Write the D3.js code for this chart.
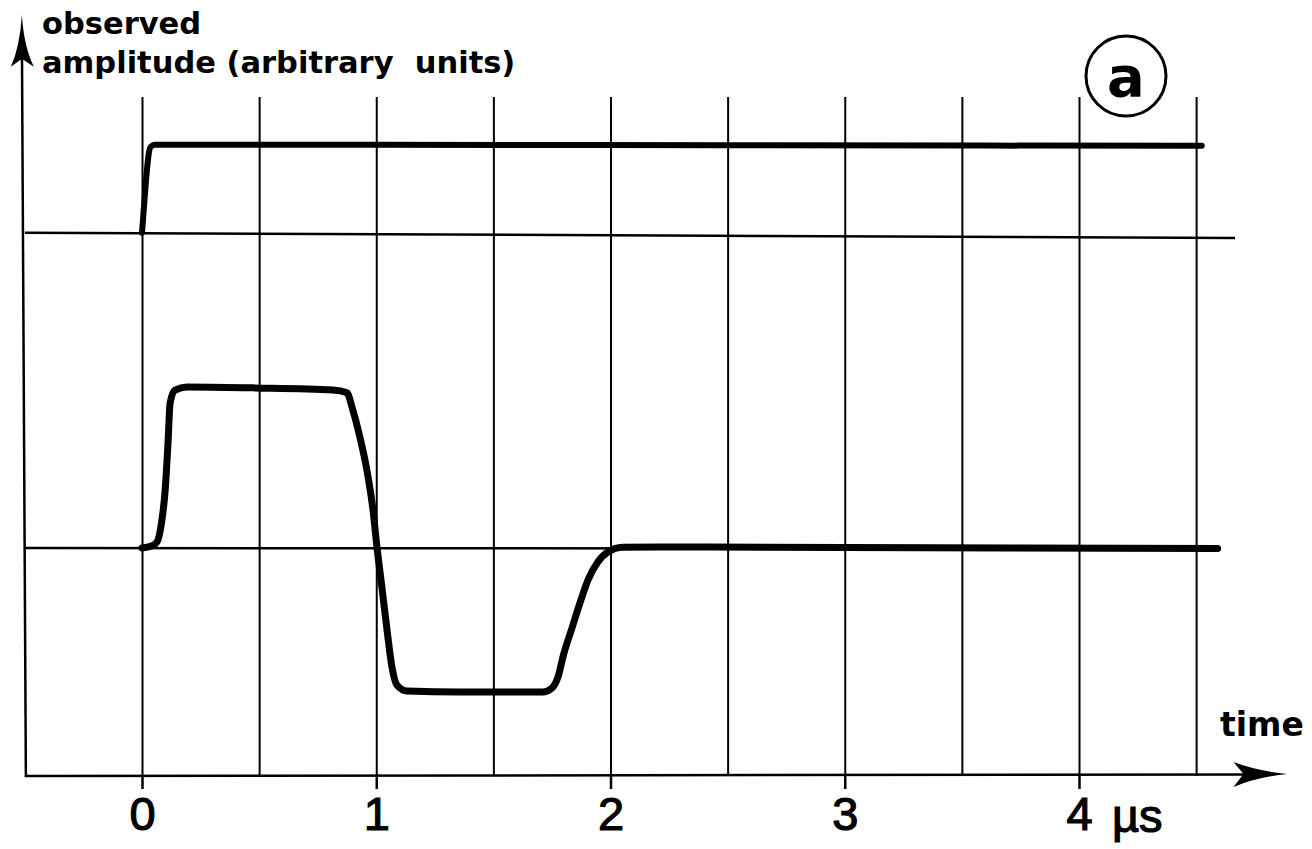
<!DOCTYPE html>
<html>
<head>
<meta charset="utf-8">
<script src="https://cdn.jsdelivr.net/npm/d3@7/dist/d3.min.js"></script>
<style>
  html, body { margin: 0; padding: 0; background: #fff; }
  svg { display: block; }
</style>
</head>
<body>
<svg id="chart" width="1312" height="849"></svg>
<script>
// ---------- DATA ----------
const xTickValues = [0, 1, 2, 3, 4];
const xTickLabels = ["0", "1", "2", "3", "4"];
const gridTimes = [0, 0.5, 1, 1.5, 2, 2.5, 3, 3.5, 4, 4.5];
const unitLabel = "µs";
const xAxisLabel = "time";
const yAxisLabelLines = ["observed", "amplitude (arbitrary  units)"];
const panelLabel = "a";

// upper trace: step response (time µs, amplitude a.u.)
const upperTrace = [
  [0.000, 1.957], [0.010, 2.150], [0.020, 2.330], [0.028, 2.440],
  [0.036, 2.488], [0.055, 2.503], [1.000, 2.503], [2.500, 2.500], [4.524, 2.497]
];
// lower trace: bipolar pulse
const lowerTrace = [
  [0.000, 0.000], [0.040, 0.012], [0.064, 0.037], [0.085, 0.174], [0.098, 0.342],
  [0.111, 0.652], [0.120, 0.900], [0.141, 0.980], [0.192, 1.000], [0.474, 0.994],
  [0.815, 0.981], [0.875, 0.963], [0.900, 0.857], [0.930, 0.689], [0.960, 0.484],
  [0.986, 0.236], [1.003, 0.006], [1.024, -0.242], [1.046, -0.509], [1.067, -0.739],
  [1.088, -0.851], [1.131, -0.888], [1.357, -0.894], [1.711, -0.894], [1.750, -0.870],
  [1.776, -0.801], [1.800, -0.660], [1.835, -0.500], [1.870, -0.340], [1.905, -0.195],
  [1.946, -0.087], [1.989, -0.025], [2.053, 0.004], [2.211, 0.006], [3.000, 0.003],
  [4.592, -0.004]
];
// reference baselines
const upperBaseline = [[-0.5, 1.957], [4.666, 1.925]];
const lowerBaseline = [[-0.5, 0.000], [4.60, -0.006]];

// axis extents
const xAxisStart = -0.5, xAxisTip = 4.89;
const yAxisBottom = -1.416, yGridTop = 2.80, yAxisTip = 3.31;

// ---------- SCALES ----------
const svg = d3.select("#chart");
const x = d3.scaleLinear().domain([0, 4]).range([142, 1079]);
const y = d3.scaleLinear().domain([yAxisBottom, yGridTop]).range([776, 97]);

const axisY = y(yAxisBottom);
const axisX = x(xAxisStart);

// ---------- GRID ----------
const grid = d3.axisBottom(x)
  .tickValues(gridTimes)
  .tickSize(-(y(yAxisBottom) - y(yGridTop)))
  .tickFormat("");
svg.append("g")
  .attr("transform", `translate(0,${axisY})`)
  .call(grid)
  .call(g => g.select(".domain").remove())
  .call(g => g.selectAll("line").attr("stroke", "#000").attr("stroke-width", 2));

// ---------- X AXIS TICKS + LABELS ----------
const xAxis = d3.axisBottom(x)
  .tickValues(xTickValues)
  .tickSize(13)
  .tickPadding(8)
  .tickFormat((d, i) => xTickLabels[i]);
svg.append("g")
  .attr("transform", `translate(0,${axisY})`)
  .call(xAxis)
  .call(g => g.select(".domain").remove())
  .call(g => g.selectAll("line").attr("stroke", "#000").attr("stroke-width", 2.5))
  .call(g => g.selectAll("text")
    .attr("fill", "#000")
    .attr("stroke", "#000")
    .attr("stroke-width", 1.2)
    .style("font-family", "'Liberation Sans', Arial, sans-serif")
    .style("font-size", "47px"));

svg.append("text")
  .attr("x", x(4) + 33)
  .attr("y", 832)
  .attr("fill", "#000")
  .attr("stroke", "#000")
  .attr("stroke-width", 1.2)
  .style("font-family", "'Liberation Sans', Arial, sans-serif")
  .style("font-size", "47px")
  .text(unitLabel);

// ---------- AXIS LINES WITH ARROWS ----------
svg.append("line")
  .attr("x1", axisX).attr("y1", axisY)
  .attr("x2", x(xAxisTip) - 20).attr("y2", axisY - 1.5)
  .attr("stroke", "#000").attr("stroke-width", 2.5);
{
  const tx = x(xAxisTip), ty = axisY - 2;
  svg.append("path")
    .attr("d", `M${tx},${ty} Q${tx - 30},${ty - 3} ${tx - 54},${ty - 12} L${tx - 44},${ty} L${tx - 54},${ty + 13} Q${tx - 30},${ty + 3} ${tx},${ty} Z`)
    .attr("fill", "#000");
}
{
  const bx = axisX + 1, tx = axisX - 3, ty = y(yAxisTip);
  svg.append("line")
    .attr("x1", bx).attr("y1", axisY + 1)
    .attr("x2", tx).attr("y2", ty + 20)
    .attr("stroke", "#000").attr("stroke-width", 2.5);
  svg.append("path")
    .attr("d", `M${tx},${ty} Q${tx - 2},${ty + 32} ${tx - 11},${ty + 52} L${tx},${ty + 44} L${tx + 12},${ty + 52} Q${tx + 2},${ty + 32} ${tx},${ty} Z`)
    .attr("fill", "#000");
}

// ---------- BASELINES ----------
const straight = d3.line().x(d => x(d[0])).y(d => y(d[1]));
[upperBaseline, lowerBaseline].forEach(b => {
  svg.append("path")
    .attr("d", straight(b))
    .attr("fill", "none")
    .attr("stroke", "#000")
    .attr("stroke-width", 2.5);
});

// ---------- TRACES ----------
const curve = d3.line().x(d => x(d[0])).y(d => y(d[1])).curve(d3.curveMonotoneX);
svg.append("path")
  .attr("d", curve(upperTrace))
  .attr("fill", "none")
  .attr("stroke", "#000")
  .attr("stroke-width", 6)
  .attr("stroke-linejoin", "round")
  .attr("stroke-linecap", "round");
svg.append("path")
  .attr("d", curve(lowerTrace))
  .attr("fill", "none")
  .attr("stroke", "#000")
  .attr("stroke-width", 7)
  .attr("stroke-linejoin", "round")
  .attr("stroke-linecap", "round");

// ---------- TEXTS ----------
const boldFont = "'DejaVu Sans', Verdana, sans-serif";
svg.append("text")
  .attr("x", 42).attr("y", 34)
  .style("font-family", boldFont).style("font-weight", "bold").style("font-size", "30.5px")
  .attr("fill", "#000")
  .text(yAxisLabelLines[0]);
svg.append("text")
  .attr("x", 42).attr("y", 73)
  .attr("xml:space", "preserve")
  .style("white-space", "pre")
  .style("font-family", boldFont).style("font-weight", "bold").style("font-size", "30.5px")
  .attr("fill", "#000")
  .text(yAxisLabelLines[1]);

svg.append("text")
  .attr("x", 1220).attr("y", 736)
  .style("font-family", boldFont).style("font-weight", "bold").style("font-size", "33px")
  .attr("fill", "#000")
  .text(xAxisLabel);

// panel label in circle
svg.append("circle")
  .attr("cx", 1126).attr("cy", 76).attr("r", 40)
  .attr("fill", "none").attr("stroke", "#000").attr("stroke-width", 3);
svg.append("text")
  .attr("x", 1126).attr("y", 76)
  .attr("text-anchor", "middle")
  .attr("dy", "0.36em")
  .style("font-family", boldFont).style("font-weight", "bold").style("font-size", "56px")
  .attr("fill", "#000")
  .text(panelLabel);
</script>
</body>
</html>
